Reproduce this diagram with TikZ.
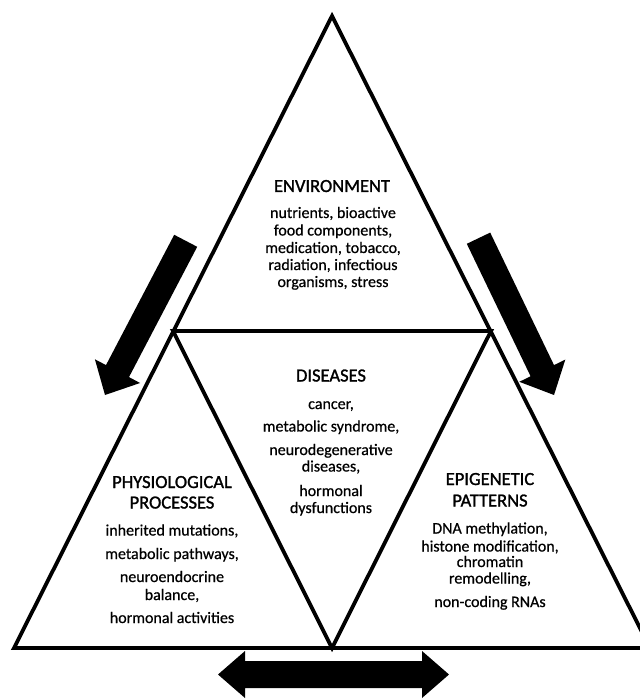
\documentclass[tikz,border=0pt]{standalone}
\usepackage{fontspec}
\setmainfont{Carlito}
\newfontfamily\titlefont[FakeBold=1.4]{Carlito}
\newfontfamily\bodyfont[FakeBold=0.6]{Carlito}
\begin{document}
\begin{tikzpicture}[x=1pt,y=-1pt,
  edge/.style={draw=black,line width=3.8pt,line join=miter},
  blockarrow/.style={fill=black,draw=none},
  ttl/.style={anchor=base,inner sep=0pt,font=\titlefont\fontsize{18.5}{20}\selectfont},
  txt/.style={anchor=base,inner sep=0pt,font=\bodyfont\fontsize{16}{17}\selectfont}]
\useasboundingbox (0,0) rectangle (639,700);
% triangle corners
\coordinate (apex) at (332,16);
\coordinate (bl) at (14,648);
\coordinate (br) at (650,648);
\coordinate (ml) at (173,331);
\coordinate (mr) at (491,331);
\coordinate (mb) at (332,648);
\draw[edge] (bl) -- (apex) -- (br) -- cycle;
\draw[edge] (ml) -- (mr) -- (mb) -- cycle;
% block arrows
\fill[blockarrow] (174.2,234.8) -- (197.2,246.8) -- (129,377.1) -- (140.1,383.0) -- (105,395) -- (94.9,359.3) -- (106,365.1) -- cycle;
\fill[blockarrow] (466.8,243.8) -- (490.2,232.6) -- (554,365.1) -- (565.3,359.6) -- (554,395) -- (519.3,381.8) -- (530.6,376.3) -- cycle;
\fill[blockarrow] (218,674.5) -- (245,651) -- (245,661) -- (422,661) -- (422,651) -- (449,674.5) -- (422,698) -- (422,688) -- (245,688) -- (245,698) -- cycle;
% ENVIRONMENT
\node[ttl] (envt) at (332,192) {ENVIRONMENT};
\node[txt] (env1) at (333,218) {nutrients, bioactive};
\node[txt] (env2) at (333,235.5) {food components,};
\node[txt] (env3) at (333,253) {medication, tobacco,};
\node[txt] (env4) at (333,270) {radiation, infectious};
\node[txt] (env5) at (333,287) {organisms, stress};
% DISEASES
\node[ttl] (dist) at (331,381.5) {DISEASES};
\node[txt] (dis1) at (331,409) {cancer,};
\node[txt] (dis2) at (331,431.5) {metabolic syndrome,};
\node[txt] (dis3) at (331,455) {neurodegenerative};
\node[txt] (dis4) at (331,471.5) {diseases,};
\node[txt] (dis5) at (331,496) {hormonal};
\node[txt] (dis6) at (331,513) {dysfunctions};
% PHYSIOLOGICAL PROCESSES
\node[ttl] (phyt1) at (172,488) {PHYSIOLOGICAL};
\node[ttl] (phyt2) at (172,508.5) {PROCESSES};
\node[txt] (phy1) at (172,535.5) {inherited mutations,};
\node[txt] (phy2) at (172,559) {metabolic pathways,};
\node[txt] (phy3) at (172,582) {neuroendocrine};
\node[txt] (phy4) at (172,600) {balance,};
\node[txt] (phy5) at (172,623) {hormonal activities};
% EPIGENETIC PATTERNS
\node[ttl] (epit1) at (490,485) {EPIGENETIC};
\node[ttl] (epit2) at (490,506.5) {PATTERNS};
\node[txt] (epi1) at (490,533.5) {DNA methylation,};
\node[txt] (epi2) at (490,551.5) {histone modification,};
\node[txt] (epi3) at (490,567) {chromatin};
\node[txt] (epi4) at (490,583.5) {remodelling,};
\node[txt] (epi5) at (490,607) {non-coding RNAs};
\end{tikzpicture}
\end{document}
